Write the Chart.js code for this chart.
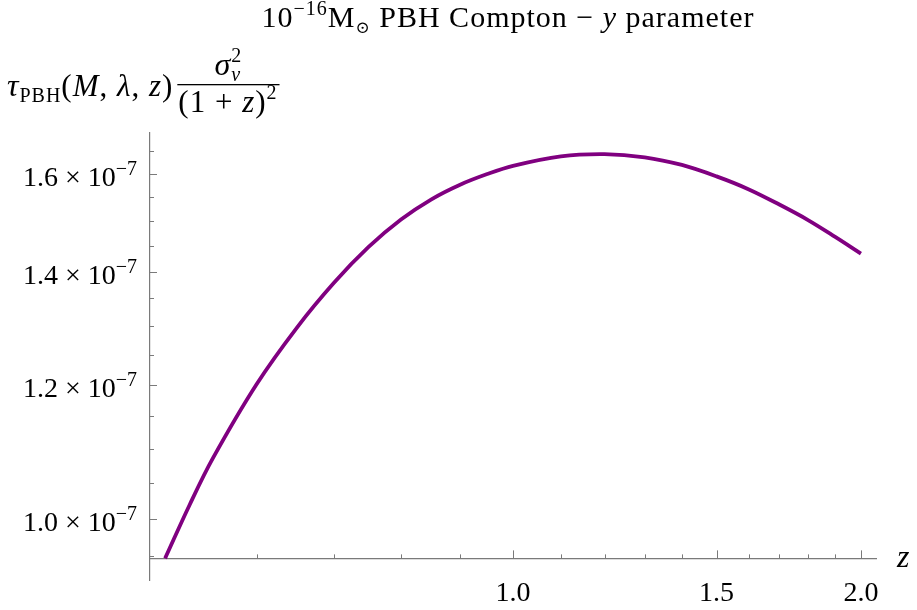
<!DOCTYPE html>
<html>
<head>
<meta charset="utf-8">
<script src="https://cdn.jsdelivr.net/npm/chart.js@4.4.0/dist/chart.umd.min.js"></script>
<style>
  html, body { margin: 0; padding: 0; background: #fff; }
</style>
</head>
<body>
<canvas id="chart" width="917" height="610"></canvas>
<script>
// Compton-y curve for a 1e-16 Msun PBH, log-log in z
const zValues = [0.5, 0.525, 0.55, 0.6, 0.65, 0.7, 0.75, 0.8, 0.85, 0.9, 0.95, 1.0, 1.1, 1.2, 1.3, 1.4, 1.5, 1.6, 1.7, 1.8, 1.9, 2.0];
const comptonY = [0.9475e-7, 1.019e-7, 1.086e-7, 1.201e-7, 1.297e-7, 1.379e-7, 1.448e-7, 1.503e-7, 1.545e-7, 1.576e-7, 1.599e-7,
                  1.617e-7, 1.638e-7, 1.643e-7, 1.636e-7, 1.619e-7, 1.594e-7, 1.566e-7, 1.534e-7, 1.502e-7, 1.468e-7, 1.435e-7];

const xTicks = [0.6, 0.7, 0.8, 0.9, 1.0, 1.1, 1.2, 1.3, 1.4, 1.5, 1.6, 1.7, 1.8, 1.9, 2.0];
const xMajor = [1.0, 1.5, 2.0];
const yTicks = [0.95e-7, 1.0e-7, 1.05e-7, 1.1e-7, 1.15e-7, 1.2e-7, 1.25e-7, 1.3e-7, 1.35e-7, 1.4e-7, 1.45e-7, 1.5e-7, 1.55e-7, 1.6e-7, 1.65e-7];
const yMajor = [1.0e-7, 1.2e-7, 1.4e-7, 1.6e-7];

const SERIF = '"Liberation Serif", "DejaVu Serif", serif';
const AXIS_GREY = '#7a7a7a';
const PURPLE = '#800080';
const Y_CROSS = 0.9475e-7; // where the z axis crosses

function isMajor(v, list) {
    return list.some(m => Math.abs(m - v) / m < 1e-6);
}

// text runs; each piece: [text, size, italic, dy]
function setFont(ctx, p) {
    ctx.font = (p[2] ? 'italic ' : '') + p[1] + 'px ' + SERIF;
}
function runWidth(ctx, parts) {
    let w = 0;
    for (const p of parts) {
        setFont(ctx, p);
        w += ctx.measureText(p[0]).width;
    }
    return w;
}
function drawRun(ctx, parts, x, y) {
    for (const p of parts) {
        setFont(ctx, p);
        ctx.fillText(p[0], x, y + (p[3] || 0));
        x += ctx.measureText(p[0]).width;
    }
    return x;
}

const mathText = {
    id: 'mathText',
    beforeDatasetsDraw(chart) {
        const ctx = chart.ctx;
        const xs = chart.scales.x, ys = chart.scales.y;
        const axisY = ys.getPixelForValue(Y_CROSS);
        const left = chart.chartArea.left;
        ctx.save();
        ctx.strokeStyle = AXIS_GREY;
        ctx.lineWidth = 1;
        xs.ticks.forEach(t => {
            const px = Math.round(xs.getPixelForValue(t.value)) + 0.5;
            const len = t.major ? 8 : 4;
            ctx.beginPath();
            ctx.moveTo(px, axisY);
            ctx.lineTo(px, axisY - len);
            ctx.stroke();
        });
        ys.ticks.forEach(t => {
            const py = Math.round(ys.getPixelForValue(t.value)) + 0.5;
            const len = t.major ? 7 : 4;
            ctx.beginPath();
            ctx.moveTo(left, py);
            ctx.lineTo(left + len, py);
            ctx.stroke();
        });
        ctx.restore();
    },
    afterDraw(chart) {
        const ctx = chart.ctx;
        const ys = chart.scales.y;
        ctx.save();
        ctx.fillStyle = '#000';
        ctx.textBaseline = 'alphabetic';
        ctx.textAlign = 'left';

        // y tick labels  m × 10^-7
        ys.ticks.filter(t => t.major).forEach(t => {
            const py = ys.getPixelForValue(t.value);
            const parts = [[(t.value * 1e7).toFixed(1), 28, false], [' \u00d7 ', 28, false],
                           ['10', 28, false], ['\u22127', 20, false, -11]];
            const w = runWidth(ctx, parts);
            drawRun(ctx, parts, 137 - w, py + 12);
        });

        ctx.letterSpacing = '1px';
        // plot title
        const title = [['10', 30, false], ['\u221216', 20, false, -12], ['M', 30, false], ['\u2299', 17, false, 6],
                       [' PBH Compton \u2212 ', 30, false], ['y', 30, true], [' parameter', 30, false]];
        const tw = runWidth(ctx, title);
        drawRun(ctx, title, 508 - tw / 2, 27);

        // y axis label  tau_PBH(M, lambda, z) sigma_v^2 / (1+z)^2
        const base = 96;
        const x = drawRun(ctx, [['\u03c4', 32, true], ['PBH', 20, false, 6], ['(', 31, false], ['M', 31, true], [', ', 31, false],
                                ['\u03bb', 31, true], [', ', 31, false], ['z', 31, true], [')', 31, false]], 7, base);
        const barL = x + 4;
        const den = [['(1 + ', 31, false], ['z', 31, true], [')', 31, false], ['2', 20, false, -13]];
        const dw = runWidth(ctx, den);
        const barR = barL + dw + 3;
        ctx.fillRect(barL, 84, barR - barL, 1.3);
        drawRun(ctx, den, barL + 1, 112);
        ctx.font = 'italic 32px ' + SERIF;
        const sw = ctx.measureText('\u03c3').width;
        const nx = (barL + barR) / 2 - (sw + 11) / 2;
        ctx.fillText('\u03c3', nx, 75);
        ctx.font = 'italic 20px ' + SERIF;
        ctx.fillText('v', nx + sw, 81);
        ctx.font = '20px ' + SERIF;
        ctx.fillText('2', nx + sw, 62);
        ctx.letterSpacing = '0px';

        // z axis label
        ctx.font = 'italic 32px ' + SERIF;
        ctx.fillText('z', 897, 567);
        ctx.restore();
    }
};

new Chart(document.getElementById('chart'), {
    type: 'line',
    data: {
        datasets: [{
            data: zValues.map((z, i) => ({ x: z, y: comptonY[i] })),
            borderColor: PURPLE,
            borderWidth: 3.8,
            pointRadius: 0,
            tension: 0.35,
            fill: false
        }]
    },
    options: {
        responsive: false,
        animation: false,
        layout: { padding: { top: 133, bottom: 30, left: 0, right: 41 } },
        plugins: { legend: { display: false }, tooltip: { enabled: false } },
        scales: {
            x: {
                type: 'logarithmic',
                min: 0.4852,
                max: 2.061,
                position: { y: Y_CROSS },
                afterBuildTicks: s => { s.ticks = xTicks.map(v => ({ value: v, major: isMajor(v, xMajor) })); },
                ticks: {
                    autoSkip: false,
                    maxRotation: 0,
                    padding: 18,
                    color: '#000',
                    font: { family: SERIF, size: 28 },
                    callback: v => isMajor(v, xMajor) ? v.toFixed(1) : ''
                },
                grid: { drawOnChartArea: false, drawTicks: false },
                border: { color: AXIS_GREY, width: 1.2 }
            },
            y: {
                type: 'logarithmic',
                position: 'left',
                min: 0.92e-7,
                max: 1.691e-7,
                afterBuildTicks: s => { s.ticks = yTicks.map(v => ({ value: v, major: isMajor(v, yMajor) })); },
                afterFit: s => { s.width = 150; },
                ticks: { display: false },
                grid: { drawOnChartArea: false, drawTicks: false },
                border: { color: AXIS_GREY, width: 1.2 }
            }
        }
    },
    plugins: [mathText]
});
</script>
</body>
</html>
